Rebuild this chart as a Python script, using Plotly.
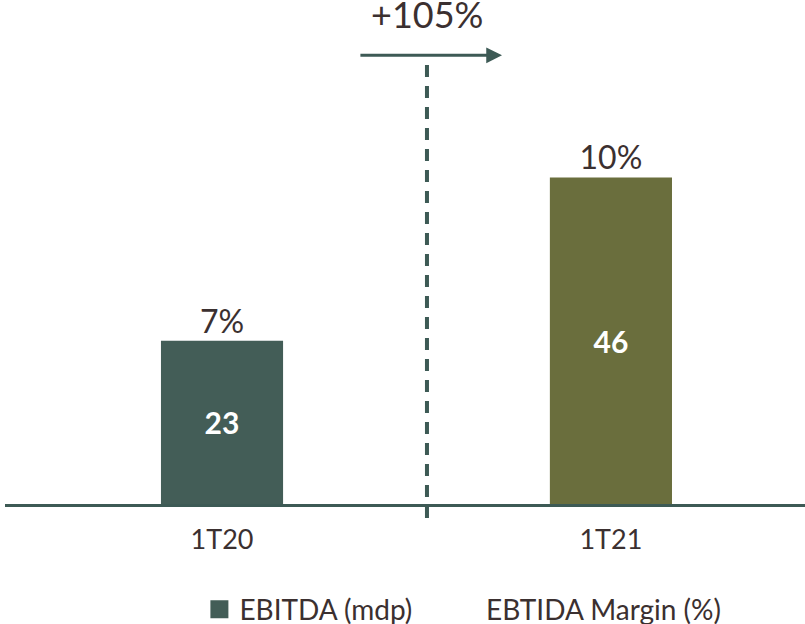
import plotly.graph_objects as go

categories = ["1T20", "1T21"]
ebitda = [23, 46]
margin_labels = ["7%", "10%"]
growth_label = "+105%"
bar_colors = ["#435d57", "#6a6e3d"]

TXT = "#3b3030"
LINE = "#3d5a55"
FONT = "Lato"
NB = "\u00a0"

fig = go.Figure()
fig.add_trace(go.Bar(
    x=categories, y=ebitda, width=0.314,
    marker=dict(color=bar_colors, line=dict(width=0)),
    text=[str(v) for v in ebitda], textposition="inside",
    insidetextanchor="middle",
    textfont=dict(family=FONT, size=30, color="white", weight="bold"),
    showlegend=False, hoverinfo="skip",
))
fig.add_trace(go.Scatter(
    x=categories, y=ebitda, mode="text", text=margin_labels,
    textposition="top center",
    textfont=dict(family=FONT, size=32, color=TXT),
    showlegend=False, hoverinfo="skip",
))
# legend entries
fig.add_trace(go.Scatter(
    x=[None], y=[None], mode="markers", name="EBITDA (mdp)" + NB * 4,
    marker=dict(symbol="square", size=16, color=bar_colors[0],
                line=dict(width=2, color=bar_colors[0])),
))
fig.add_trace(go.Scatter(
    x=[None], y=[None], mode="lines", name="EBTIDA Margin (%)",
    line=dict(color="rgba(0,0,0,0)"),
))

# dashed divider
fig.add_shape(type="line", xref="x", yref="paper",
              x0=0.527, x1=0.527, y0=-0.0278, y1=0.891,
              line=dict(color=LINE, width=4, dash="12px,9px"))
# arrow
fig.add_annotation(x=0.72, y=63.2, ax=0.352, ay=63.2, xref="x", yref="y",
                   axref="x", ayref="y", text="", showarrow=True,
                   arrowhead=2, arrowsize=1.05, arrowwidth=3,
                   arrowcolor=LINE, standoff=0)
fig.add_annotation(x=0.527, y=69.0, xref="x", yref="y", text=growth_label,
                   showarrow=False,
                   font=dict(family=FONT, size=36, color=TXT))

fig.update_layout(
    template="none",
    width=805, height=624,
    margin=dict(l=5, r=0, t=0, b=120, autoexpand=False),
    plot_bgcolor="white", paper_bgcolor="white",
    font=dict(family=FONT, color=TXT),
    xaxis=dict(range=[-0.558, 1.499], showgrid=False, zeroline=False,
               showline=True, linecolor=LINE, linewidth=2.5,
               ticks="", ticklabelstandoff=10, automargin=False,
               tickfont=dict(family=FONT, size=27, color=TXT)),
    yaxis=dict(range=[0, 71], visible=False, automargin=False),
    legend=dict(orientation="h", x=0.243, xanchor="left", y=-0.16,
                yanchor="top", font=dict(family=FONT, size=28, color=TXT),
                bgcolor="rgba(0,0,0,0)"),
)

fig.write_html("out.html", config={"displayModeBar": False},
               post_script="document.body.style.margin='0px';")
